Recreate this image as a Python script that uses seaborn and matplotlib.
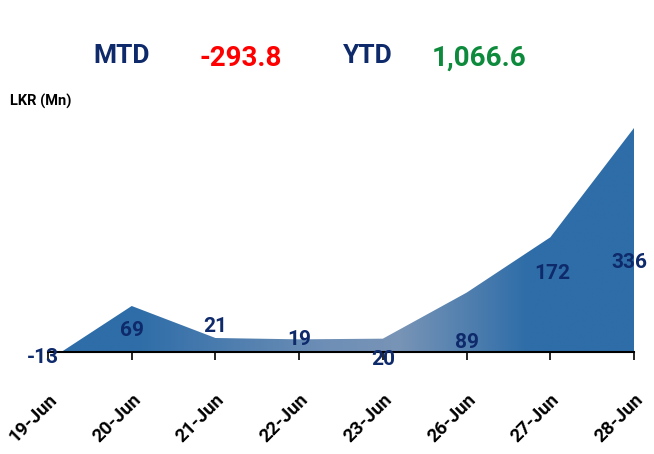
import numpy as np
import matplotlib
matplotlib.use("Agg")
import matplotlib.pyplot as plt
from matplotlib.colors import LinearSegmentedColormap
import seaborn as sns

# chart data
dates = ["19-Jun", "20-Jun", "21-Jun", "22-Jun", "23-Jun", "26-Jun", "27-Jun", "28-Jun"]
net_flow = [-13, 69, 21, 19, 20, 89, 172, 336]
mtd_value = "-293.8"
ytd_value = "1,066.6"

# label offsets in pixels (dx, dy) from each point, as excel placed them
label_offsets = [(-5, 3), (0, -24), (0, 12), (0, 0), (0, -21), (0, -50), (2, -36), (-5, -134)]

NAVY = "#0E2A6B"
BLUE = "#2E6DA8"

sns.set_theme(style="white")
plt.rcParams["font.family"] = ["Roboto", "DejaVu Sans"]

fig = plt.figure(figsize=(6.54, 4.54), dpi=100)
ax = fig.add_axes([48 / 654, 1 - 352 / 454, (634 - 48) / 654, (352 - 128) / 454])

x = np.arange(len(dates))
sns.lineplot(x=x, y=net_flow, ax=ax, linewidth=0, color=BLUE)

poly = ax.fill_between(x, 0, net_flow, color="none", linewidth=0)

# horizontal gradient, blue -> grey-blue -> blue
grad_cmap = LinearSegmentedColormap.from_list(
    "flow",
    [(0.0, BLUE), (0.15, BLUE), (0.48, "#6F8FB6"), (0.6, "#7894B6"), (0.82, BLUE), (1.0, BLUE)],
)
grad = np.linspace(0, 1, 256).reshape(1, -1)
img = ax.imshow(grad, cmap=grad_cmap, aspect="auto",
                extent=[x[0], x[-1], 0, max(net_flow)], origin="lower", zorder=1)
img.set_clip_path(poly.get_paths()[0], transform=ax.transData)

ax.set_xlim(x[0], x[-1])
ax.set_ylim(0, max(net_flow))

for xi, val, (dx, dy) in zip(x, net_flow, label_offsets):
    ax.annotate(f"{val}", (xi, val), xytext=(dx, dy), textcoords="offset pixels",
                ha="center", va="center", fontsize=15, fontweight="bold", color=NAVY,
                zorder=5, annotation_clip=False)

ax.set_xticks(x)
ax.set_xticklabels(dates, rotation=45, ha="right", rotation_mode="anchor",
                   fontsize=13.5, fontweight="bold", color="black")
ax.tick_params(axis="x", direction="out", length=6, width=1.2, color="black", pad=22, bottom=True)
ax.set_yticks([])
for side in ["left", "right", "top"]:
    ax.spines[side].set_visible(False)
ax.spines["bottom"].set_color("black")
ax.spines["bottom"].set_linewidth(1.5)
ax.spines["bottom"].set_zorder(4)

# header
fig.text(122 / 654, 1 - 56 / 454, "MTD", fontsize=19, fontweight="bold", color=NAVY, ha="center", va="center")
fig.text(241 / 654, 1 - 58 / 454, mtd_value, fontsize=20, fontweight="bold", color="#FF0000", ha="center", va="center")
fig.text(368 / 654, 1 - 56 / 454, "YTD", fontsize=19, fontweight="bold", color=NAVY, ha="center", va="center")
fig.text(479 / 654, 1 - 58 / 454, ytd_value, fontsize=20, fontweight="bold", color="#0E8A3C", ha="center", va="center")
fig.text(10 / 654, 1 - 101 / 454, "LKR (Mn)", fontsize=10.5, fontweight="bold", color="black", ha="left", va="center")

fig.savefig("out.png", dpi=100)
